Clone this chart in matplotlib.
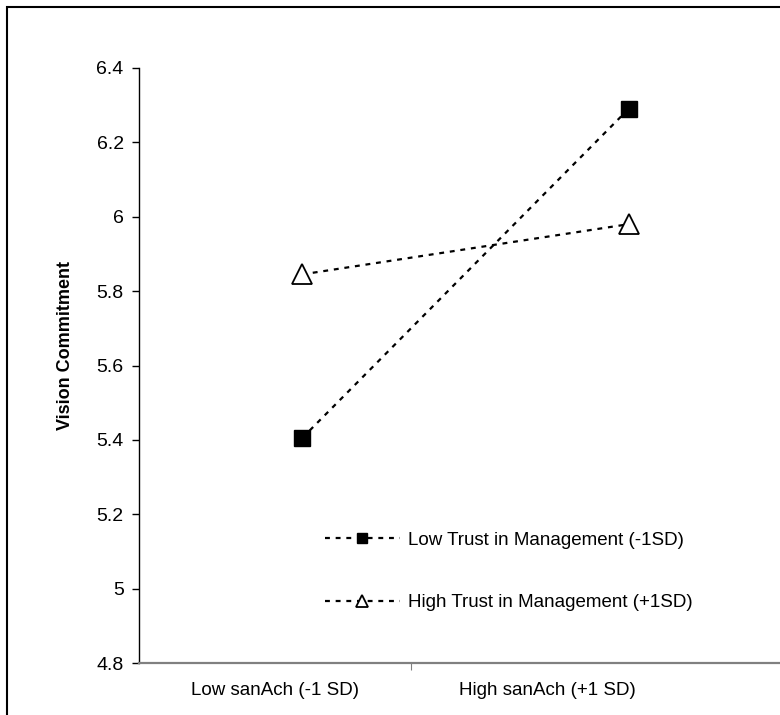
import matplotlib
matplotlib.use("Agg")
import matplotlib.pyplot as plt
from matplotlib.patches import Rectangle

plt.rcParams['font.family'] = ['Liberation Sans', 'DejaVu Sans']

# Data
categories = ["Low sanAch (-1 SD)", "High sanAch (+1 SD)"]
cat_centers = [0.5, 1.5]
point_x = [0.6, 1.8]
low_trust = [5.405, 6.29]
high_trust = [5.845, 5.98]
series_labels = ["Low Trust in Management (-1SD)", "High Trust in Management (+1SD)"]
y_ticks = [4.8, 5.0, 5.2, 5.4, 5.6, 5.8, 6.0, 6.2, 6.4]

fig = plt.figure(figsize=(7.8, 7.15), dpi=100)
ax = fig.add_axes([139 / 780, 52 / 715, 641 / 780, 595 / 715])

dash = (0, (2.2, 2.6))
ax.plot(point_x, low_trust, linestyle=dash, color="black", linewidth=1.6,
        marker="s", markersize=11, markerfacecolor="black",
        markeredgecolor="black", label=series_labels[0], clip_on=False)
ax.plot(point_x, high_trust, linestyle=dash, color="black", linewidth=1.6,
        marker="^", markersize=14, markerfacecolor="white",
        markeredgecolor="black", markeredgewidth=1.3,
        label=series_labels[1], clip_on=False)

ax.set_ylim(4.8, 6.4)
ax.set_xlim(0, 641 / 272)
ax.set_yticks(y_ticks)
ax.set_yticklabels([f"{v:g}" for v in y_ticks], fontsize=14)
ax.tick_params(axis="y", direction="out", length=5, width=1, pad=6)

# category axis: one divider tick, labels centred in each category
ax.set_xticks([1.0])
ax.set_xticklabels([""])
ax.tick_params(axis="x", which="major", direction="out", length=5,
               width=0.8, color="#808080")
ax.set_xticks(cat_centers, minor=True)
ax.set_xticklabels(categories, minor=True, fontsize=13.5)
ax.tick_params(axis="x", which="minor", length=0, pad=14)

for s in ["top", "right"]:
    ax.spines[s].set_visible(False)
ax.spines["left"].set_linewidth(1.0)
ax.spines["bottom"].set_color("#808080")
ax.spines["bottom"].set_linewidth(1.6)

ax.set_ylabel("Vision Commitment", fontsize=13, fontweight="bold")
ax.yaxis.set_label_coords(-0.102, 0.533)

ax.legend(loc="upper left", bbox_to_anchor=(0.29, 0.221), frameon=False,
          fontsize=13.5, handlelength=4.0, handletextpad=0.45,
          labelspacing=2.42, borderpad=0, borderaxespad=0,
          markerscale=0.6, numpoints=1)

# outer chart-area frame (cut off at right and bottom)
fig.add_artist(Rectangle((7 / 780, -0.1), 2.0, 1 - 7 / 715 + 0.1,
                         transform=fig.transFigure, fill=False,
                         edgecolor="black", linewidth=1.5))

fig.savefig("out.png", dpi=100)
